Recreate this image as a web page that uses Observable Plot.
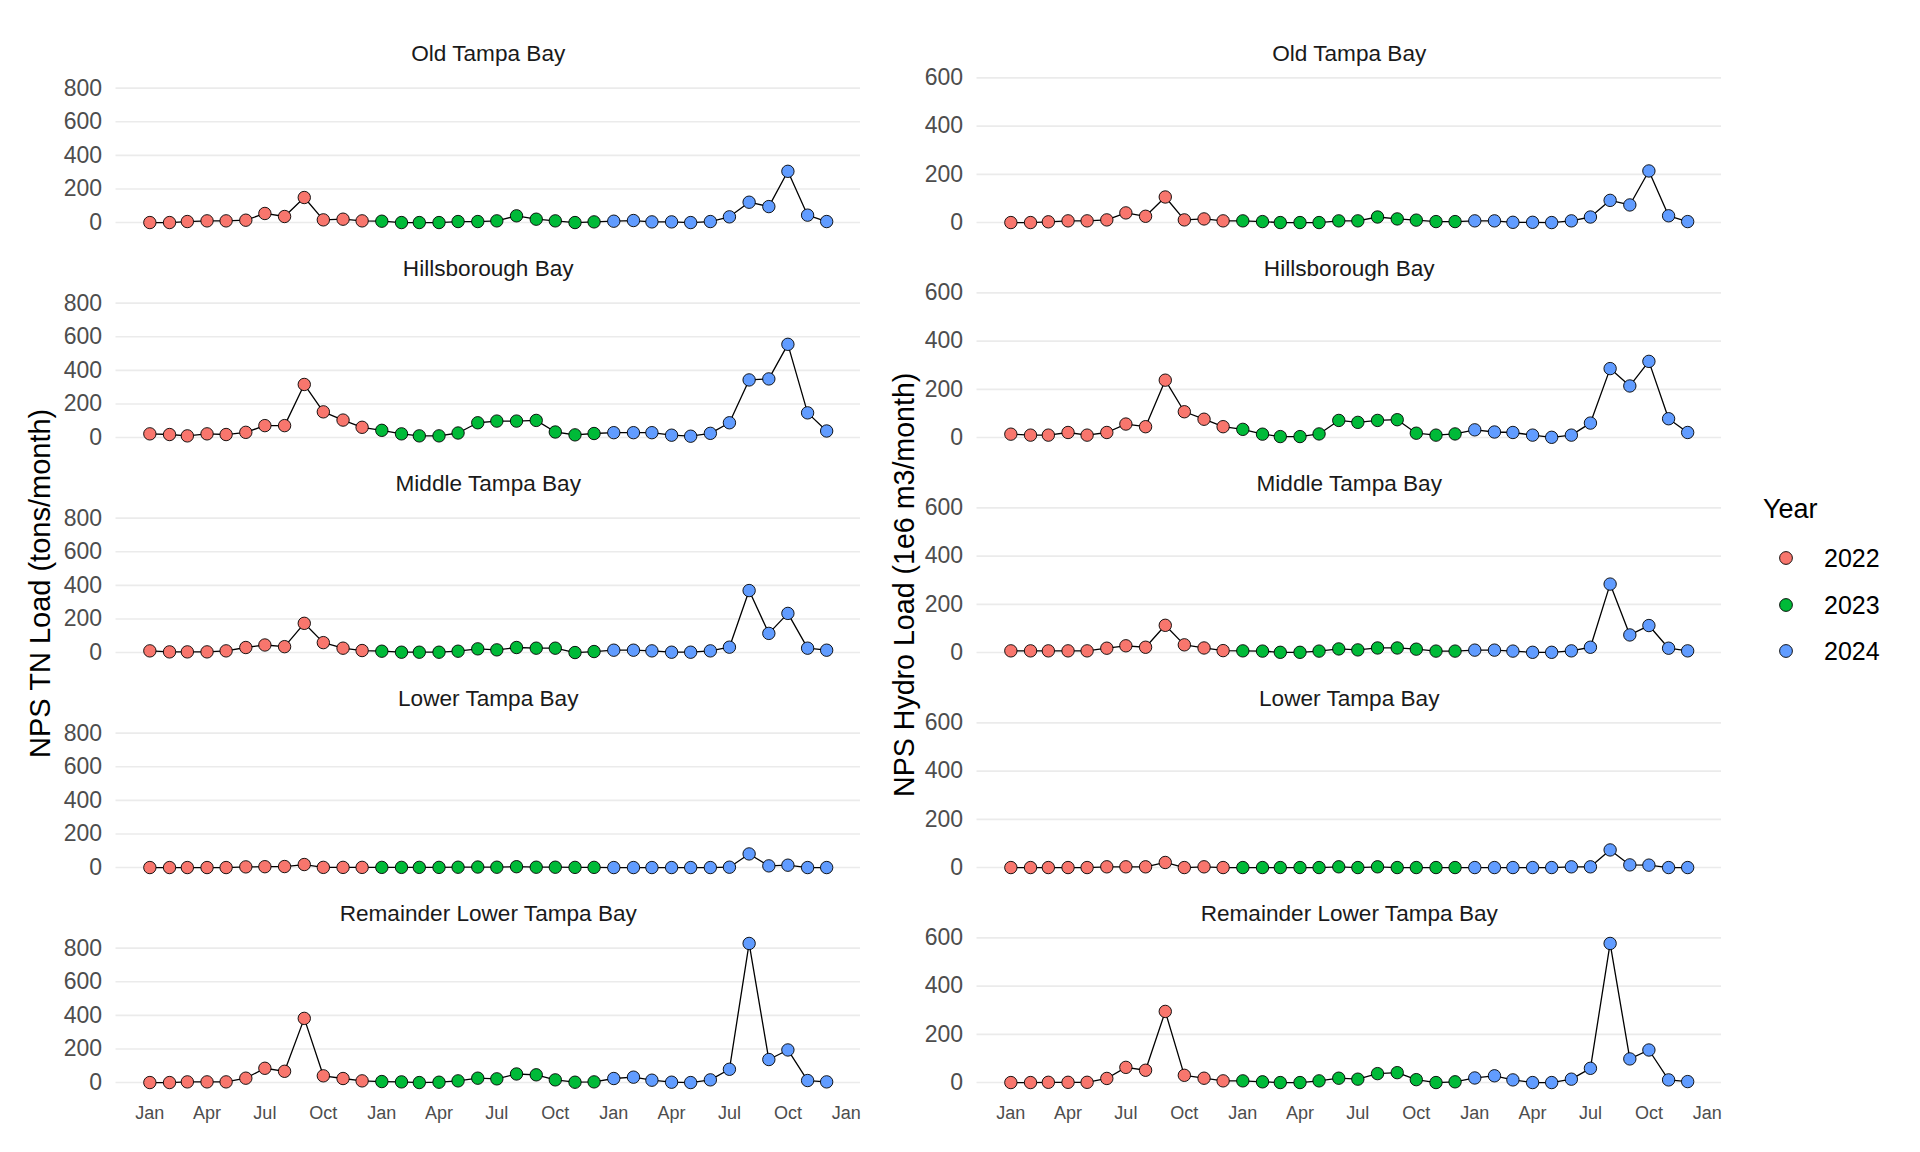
<!DOCTYPE html>
<html>
<head>
<meta charset="utf-8">
<script src="https://cdn.jsdelivr.net/npm/d3@7"></script>
<script src="https://cdn.jsdelivr.net/npm/@observablehq/plot@0.6"></script>
<style>
  html, body { margin: 0; padding: 0; background: #fff; }
  #root { position: relative; width: 1920px; height: 1152px; font-family: "Liberation Sans", Arial, sans-serif; overflow: hidden; }
  .chart { position: absolute; top: 0; }
  .ytitle { position: absolute; font-size: 29px; color: #000; white-space: nowrap; transform-origin: 0 0; line-height: 1; }
  .legend { position: absolute; left: 1763px; top: 0; }
  .leg-title { position: absolute; left: 0; font-size: 27px; color: #000; white-space: nowrap; }
  .leg-item { position: absolute; font-size: 25px; color: #000; white-space: nowrap; }
</style>
</head>
<body>
<div id="root"></div>
<script>
// ---- data ----
const bays = ["Old Tampa Bay", "Hillsborough Bay", "Middle Tampa Bay", "Lower Tampa Bay", "Remainder Lower Tampa Bay"];
const years = ["2022", "2023", "2024"];
const yearColors = ["#F8766D", "#00BA38", "#619CFF"];
const monthLabels = ["Jan", "Apr", "Jul", "Oct"];

// NPS TN load (tons/month), Jan 2022 .. Dec 2024
const tnOld   = [0,0,6,10,10,14,54,36,149,16,20,10, 8,0,0,0,6,6,10,40,20,10,0,4, 8,12,4,4,0,6,34,121,95,305,44,6];
const tnHills = [22,18,10,22,18,31,71,71,316,153,104,61, 43,22,10,10,27,88,98,98,102,33,16,24, 29,29,29,14,8,25,88,343,349,555,147,39];
const tnMid   = [10,4,4,4,10,30,45,35,174,59,26,12, 8,2,2,2,8,22,16,30,26,26,0,6, 14,14,10,2,2,10,32,369,114,233,26,14];
const tnLow   = [0,0,0,0,0,4,5,6,18,1,1,1, 1,1,1,1,2,3,2,5,2,2,1,1, 0,0,0,0,0,0,2,81,10,14,0,0];
const tnRem   = [0,0,4,4,4,26,85,67,382,40,24,10, 6,4,0,2,10,26,22,51,46,16,2,4, 24,32,14,2,0,16,79,828,137,194,12,4];

// NPS hydrologic load (1e6 m3/month), Jan 2022 .. Dec 2024
const hyOld   = [0,0,3,7,7,11,40,26,106,11,15,7, 7,4,0,0,0,7,7,23,15,10,4,4, 7,7,1,1,0,7,23,92,73,214,28,4];
const hyHills = [14,10,10,21,10,21,56,45,238,107,76,45, 34,14,4,4,15,71,63,71,74,18,10,15, 32,23,21,10,1,10,60,286,214,316,78,21];
const hyMid   = [7,7,7,7,7,18,28,22,113,32,19,8, 7,6,1,1,6,15,11,19,19,14,6,6, 10,10,6,1,1,7,22,284,73,112,18,7];
const hyLow   = [0,0,0,0,0,3,3,3,21,0,3,0, 0,0,0,0,0,3,0,3,0,0,0,0, 0,0,0,0,0,3,3,73,11,10,0,0];
const hyRem   = [0,0,1,1,1,17,63,51,295,30,18,7, 7,3,0,0,7,18,14,37,41,12,0,3, 19,28,11,0,0,14,59,577,98,135,11,4];

const tnTicks = [0, 200, 400, 600, 800];
const hyTicks = [0, 200, 400, 600];

// ---- build tables ----
const months = d3.utcMonth.range(new Date(Date.UTC(2022, 0, 1)), new Date(Date.UTC(2025, 0, 1)));
function table(series) {
  const rows = [];
  series.forEach((vals, i) => {
    vals.forEach((v, j) => rows.push({bay: bays[i], date: months[j], year: String(months[j].getUTCFullYear()), value: v}));
  });
  return rows;
}
const tnData = table([tnOld, tnHills, tnMid, tnLow, tnRem]);
const hyData = table([hyOld, hyHills, hyMid, hyLow, hyRem]);

const xTicks = d3.utcMonth.every(3).range(new Date(Date.UTC(2022, 0, 1)), new Date(Date.UTC(2025, 0, 2)));
const fmtMonth = d3.utcFormat("%b");

function expand(lo, hi) { const d = (hi - lo) * 0.05; return [lo - d, hi + d]; }
const xDomain = (() => {
  const lo = +months[0], hi = +months[months.length - 1];
  const d = (hi - lo) * 0.05;
  return [new Date(lo - d), new Date(hi + d)];
})();

const FONT = "Liberation Sans, Arial, sans-serif";

function panelChart(data, ticks, marginLeft, marginRight) {
  const ext = d3.extent(data, d => d.value);
  return Plot.plot({
    width: 880,
    height: 1152,
    marginTop: 75.3,
    marginBottom: 62.3,
    marginLeft,
    marginRight,
    style: {fontFamily: FONT, background: "transparent", overflow: "visible"},
    x: {type: "utc", domain: xDomain},
    y: {domain: expand(ext[0], ext[1])},
    fy: {domain: bays, paddingInner: 0.2873, paddingOuter: 0, axis: null},
    color: {domain: years, range: yearColors},
    marks: [
      Plot.gridY(ticks, {stroke: "#EBEBEB", strokeOpacity: 1, strokeWidth: 1.6}),
      Plot.axisY(ticks, {tickSize: 0, tickPadding: 14, fontSize: 23, fill: "#4D4D4D", label: null}),
      Plot.axisX(xTicks, {tickSize: 0, tickPadding: 17, fontSize: 18, fill: "#4D4D4D", tickFormat: fmtMonth, label: null}),
      Plot.line(data, {x: "date", y: "value", fy: "bay", z: "bay", stroke: "black", strokeWidth: 1.3}),
      Plot.dot(data, {x: "date", y: "value", fy: "bay", fill: "year", stroke: "black", strokeWidth: 0.9, r: 6.2}),
      Plot.text(bays, {fy: d => d, text: d => d, frameAnchor: "top", lineAnchor: "bottom", dy: -15.5, fontSize: 22.6, fill: "#1A1A1A"})
    ]
  });
}

const root = document.getElementById("root");

const left = panelChart(tnData, tnTicks, 115.5, 20);
left.classList.add("chart");
left.style.left = "0px";
root.appendChild(left);

const right = panelChart(hyData, hyTicks, 96.5, 39);
right.classList.add("chart");
right.style.left = "880px";
root.appendChild(right);

// axis titles
function yTitle(text, baselineX, centerY, size) {
  const el = document.createElement("div");
  el.className = "ytitle";
  el.style.fontSize = size + "px";
  el.textContent = text;
  root.appendChild(el);
  const w = el.offsetWidth, h = el.offsetHeight;
  el.style.left = (baselineX - h * 0.9) + "px";
  el.style.top = (centerY + w / 2) + "px";
  el.style.transform = "rotate(-90deg)";
}
yTitle("NPS TN Load (tons/month)", 52, 583, 29);
yTitle("NPS Hydro Load (1e6 m3/month)", 916, 585, 28.6);

// legend
const leg = document.createElement("div");
leg.className = "legend";
root.appendChild(leg);
const lt = document.createElement("div");
lt.className = "leg-title";
lt.textContent = "Year";
lt.style.top = (508 - 14) + "px";
leg.appendChild(lt);
const legY = [558, 605, 651];
years.forEach((y, i) => {
  const sw = document.createElementNS("http://www.w3.org/2000/svg", "svg");
  sw.setAttribute("width", 20); sw.setAttribute("height", 20);
  sw.style.position = "absolute";
  sw.style.left = (1786 - 1763 - 10) + "px";
  sw.style.top = (legY[i] - 10) + "px";
  const c = document.createElementNS("http://www.w3.org/2000/svg", "circle");
  c.setAttribute("cx", 10); c.setAttribute("cy", 10); c.setAttribute("r", 6.4);
  c.setAttribute("fill", yearColors[i]); c.setAttribute("stroke", "black"); c.setAttribute("stroke-width", 0.9);
  sw.appendChild(c);
  leg.appendChild(sw);
  const t = document.createElement("div");
  t.className = "leg-item";
  t.textContent = y;
  t.style.left = (1824 - 1763) + "px";
  t.style.top = (legY[i] - 14) + "px";
  leg.appendChild(t);
});
</script>
</body>
</html>
